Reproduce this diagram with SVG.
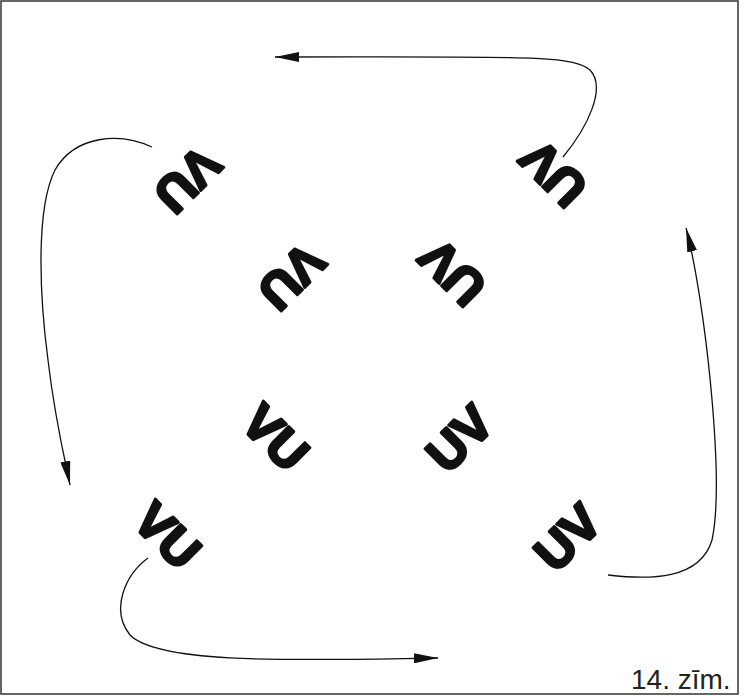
<svg xmlns="http://www.w3.org/2000/svg" width="747" height="696" viewBox="0 0 747 696">
<defs>
<style>
.g{font-family:"Liberation Sans",Arial,sans-serif;font-weight:bold;font-size:50px;fill:#111;text-anchor:middle;stroke:#111;stroke-width:3px;stroke-linejoin:round}
.c{fill:none;stroke:#111;stroke-width:1.3}
.lbl{font-family:"Liberation Sans",Arial,sans-serif;font-size:28px;fill:#222}
</style>
<marker id="ah" viewBox="0 0 24 10" refX="24" refY="5" markerWidth="24" markerHeight="10" markerUnits="userSpaceOnUse" orient="auto">
<path d="M0,0 L24,5 L0,10 z" fill="#111"/>
</marker>
</defs>
<rect x="0" y="0" width="747" height="696" fill="#fff"/>
<rect x="1" y="1" width="737" height="693" fill="none" stroke="#333" stroke-width="1.5"/>
<g id="tl-outer" transform="translate(188,180) rotate(135)"><text class="g" x="0" y="18">VU</text></g>
<g id="tr-outer" transform="translate(553,174) rotate(-135)"><text class="g" x="0" y="18">UV</text></g>
<g id="tl-inner" transform="translate(292,277) rotate(135)"><text class="g" x="0" y="18">VU</text></g>
<g id="tr-inner" transform="translate(452,273) rotate(-135)"><text class="g" x="0" y="18">UV</text></g>
<g id="bl-inner" transform="translate(276,437) rotate(45)"><text class="g" x="0" y="18">VU</text></g>
<g id="br-inner" transform="translate(459,438) rotate(-45)"><text class="g" x="0" y="18">UV</text></g>
<g id="bl-outer" transform="translate(168,535) rotate(45)"><text class="g" x="0" y="18">VU</text></g>
<g id="br-outer" transform="translate(567,537) rotate(-45)"><text class="g" x="0" y="18">UV</text></g>
<g id="connectors">
<path class="c" marker-end="url(#ah)" d="M563,157 C587,128 607,88 590,70 C572,55 530,57 275,57"/>
<path class="c" marker-end="url(#ah)" d="M152,147 C120,132 75,135 55,170 C35,210 40,300 48,360 C55,420 65,460 70,485"/>
<path class="c" marker-end="url(#ah)" d="M148,558 C125,575 110,610 130,635 C160,665 300,660 438,658"/>
<path class="c" marker-end="url(#ah)" d="M608,575 C650,580 700,580 712,540 C725,480 705,300 686,228"/>
</g>
<text id="label" class="lbl" x="631" y="689">14. zīm.</text>
</svg>
